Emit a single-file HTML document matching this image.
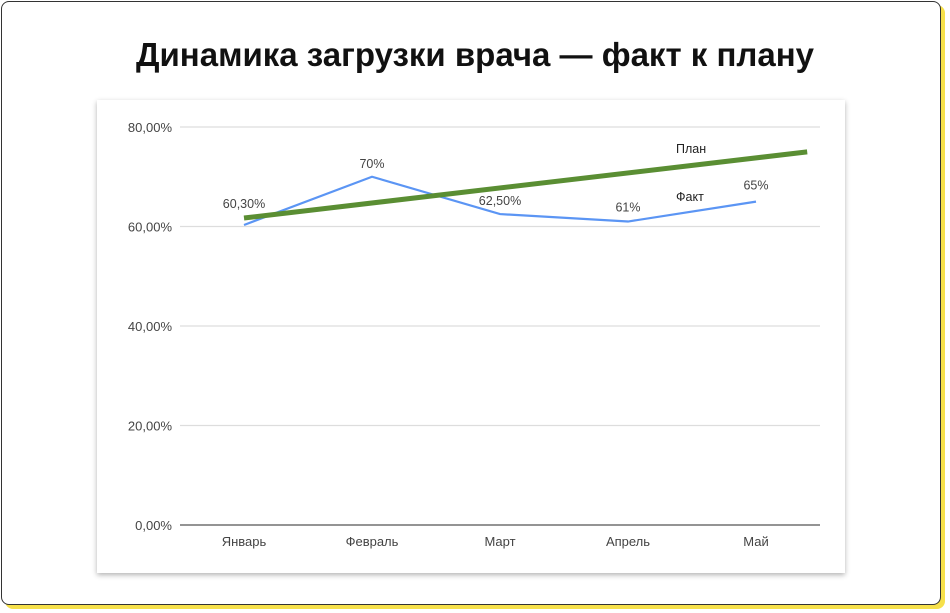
<!DOCTYPE html>
<html><head><meta charset="utf-8"><style>
body{margin:0;width:950px;height:613px;background:#fff;font-family:"Liberation Sans",sans-serif;overflow:hidden;position:relative}
.outer{position:absolute;left:1px;top:1px;width:938px;height:602px;border:1.5px solid #333;border-radius:8px;box-shadow:4px 4px 0 #f6e04a;background:#fff}
.title{position:absolute;left:0;width:950px;top:36px;text-align:center;font-size:33px;font-weight:bold;color:#111}
.card{position:absolute;left:97px;top:100px;width:748px;height:473px;background:#fff;box-shadow:0 2px 5px rgba(0,0,0,0.3)}
svg{position:absolute;left:0;top:0}
</style></head><body>
<div class="outer"></div>
<div class="title">Динамика загрузки врача — факт к плану</div>
<div class="card"></div>
<svg id="chart" width="950" height="613"></svg>
<script>
const categories=["Январь","Февраль","Март","Апрель","Май"];
const factValues=[60.3,70,62.5,61,65];
const factLabels=["60,30%","70%","62,50%","61%","65%"];
const planIndex=[0,4.4];
const planValues=[61.7,75];
const yTicks=[0,20,40,60,80];
const yTickLabels=["0,00%","20,00%","40,00%","60,00%","80,00%"];
const NS="http://www.w3.org/2000/svg",svg=document.getElementById("chart");
const x=i=>244+i*128, y=v=>525-v*4.975;
function mk(t,a,txt){const e=document.createElementNS(NS,t);for(const k in a)e.setAttribute(k,a[k]);if(txt!=null)e.textContent=txt;svg.appendChild(e);return e;}
yTicks.forEach((v,i)=>{
 const g=mk("line",{x1:180,x2:820,y1:y(v),y2:y(v),stroke:v==0?"#555":"#ddd","stroke-width":v==0?1.3:1.2});
 
 
 const t=mk("text",{x:172,y:y(v)+5,"text-anchor":"end","font-size":13,fill:"#444"},yTickLabels[i]);
 
 
});
categories.forEach((c,i)=>{
 const t=mk("text",{x:x(i),y:546,"text-anchor":"middle","font-size":13,fill:"#444"},c);
 
 
});
const fp=mk("polyline",{points:factValues.map((v,i)=>x(i)+","+y(v)).join(" "),fill:"none",stroke:"#5b95f4","stroke-width":2.2});


const pp=mk("polyline",{points:planValues.map((v,i)=>x(planIndex[i])+","+y(v)).join(" "),fill:"none",stroke:"#5a8e33","stroke-width":5});


factValues.forEach((v,i)=>{
 const t=mk("text",{x:x(i),y:y(v)-[17,9,9,10,12][i],"text-anchor":"middle","font-size":12.5,fill:"#444"},factLabels[i]);
 
 
});
const l1=mk("text",{x:676,y:153,"font-size":12.5,fill:"#222"},"План");


const l2=mk("text",{x:676,y:201,"font-size":12.5,fill:"#222"},"Факт");


</script>
</body></html>
